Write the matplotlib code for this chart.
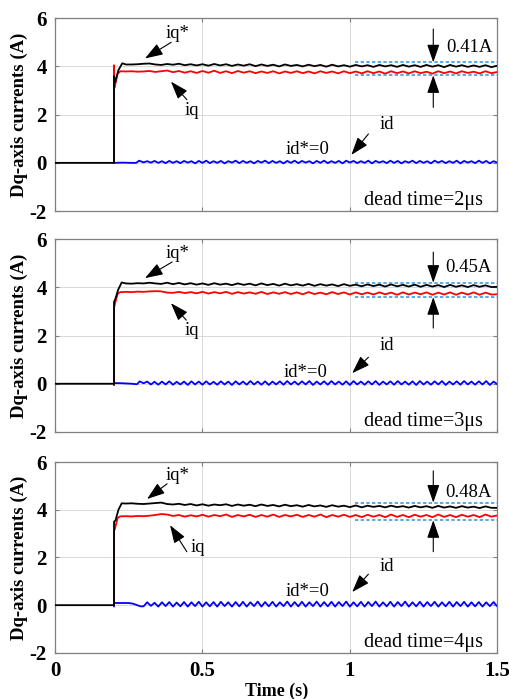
import matplotlib
matplotlib.use("Agg")
import matplotlib.pyplot as plt
import numpy as np

plt.rcParams['font.family'] = ['Liberation Serif', 'DejaVu Serif']
plt.rcParams['axes.unicode_minus'] = False

# sample grids (s) for the rippled parts of the traces
t_iq = np.round(np.arange(0.24, 1.5001, 0.02), 4)     # 64 samples
t_id = np.round(np.arange(0.30, 1.5001, 0.0125), 4)   # 97 samples

# ---------- dead time = 2us ----------
iqref1_t0 = [0, 0.2, 0.2, 0.204, 0.215, 0.228]
iqref1_y0 = [0, 0, 3.6, 3.35, 3.85, 4.13]
iqref1 = [4.08, 4.08, 4.09, 4.11, 4.12, 4.08, 4.06, 4.10, 4.07, 4.11,
          4.05, 4.09, 4.04, 4.09, 4.03, 4.10, 4.04, 4.09, 4.02, 4.08,
          4.03, 4.09, 4.01, 4.08, 4.02, 4.07, 4.00, 4.08, 4.02, 4.06,
          4.00, 4.07, 4.01, 4.06, 3.99, 4.07, 4.00, 4.05, 3.99, 4.06,
          4.00, 4.05, 3.98, 4.06, 4.00, 4.05, 3.98, 4.06, 3.99, 4.05,
          3.98, 4.06, 3.99, 4.05, 3.97, 4.06, 3.99, 4.05, 3.98, 4.04,
          3.98, 4.05, 3.97, 4.03]
iq1_t0 = [0.2, 0.2, 0.201, 0.205, 0.212, 0.222]
iq1_y0 = [0, 4.05, 3.1, 3.3, 3.7, 3.8]
iq1 = [3.79, 3.80, 3.78, 3.79, 3.81, 3.77, 3.80, 3.83, 3.76, 3.81,
       3.74, 3.80, 3.73, 3.81, 3.74, 3.82, 3.73, 3.80, 3.72, 3.81,
       3.74, 3.80, 3.72, 3.79, 3.73, 3.80, 3.71, 3.79, 3.73, 3.80,
       3.72, 3.79, 3.71, 3.80, 3.73, 3.79, 3.71, 3.80, 3.72, 3.79,
       3.71, 3.80, 3.72, 3.79, 3.70, 3.80, 3.72, 3.79, 3.71, 3.80,
       3.72, 3.78, 3.70, 3.80, 3.72, 3.79, 3.71, 3.80, 3.73, 3.78,
       3.71, 3.80, 3.72, 3.77]
id1_t0 = [0.2, 0.23, 0.26, 0.275, 0.285]
id1_y0 = [0.0, 0.01, 0.0, 0.0, 0.09]
id1 = [0.02, 0.07, 0.01, 0.08, 0.00, 0.07, -0.01, 0.08, 0.00, 0.07,
       -0.01, 0.08, 0.01, 0.07, -0.02, 0.08, 0.00, 0.09, -0.01, 0.07,
       0.00, 0.08, -0.02, 0.07, 0.01, 0.09, -0.01, 0.08, 0.00, 0.07,
       -0.02, 0.08, 0.01, 0.09, -0.01, 0.08, 0.00, 0.07, -0.02, 0.08,
       0.00, 0.09, -0.01, 0.08, 0.01, 0.07, -0.02, 0.08, 0.00, 0.09,
       -0.01, 0.07, 0.00, 0.08, -0.02, 0.09, 0.01, 0.08, -0.01, 0.07,
       0.00, 0.09, -0.02, 0.08, 0.01, 0.07, -0.01, 0.09, 0.00, 0.08,
       -0.02, 0.07, 0.01, 0.09, -0.01, 0.08, 0.00, 0.07, -0.02, 0.09,
       0.01, 0.08, -0.01, 0.07, 0.00, 0.09, -0.02, 0.08, 0.01, 0.07,
       -0.01, 0.09, 0.00, 0.08, -0.02, 0.07, 0.01]

# ---------- dead time = 3us ----------
iqref2_t0 = [0, 0.2, 0.2, 0.204, 0.214, 0.226]
iqref2_y0 = [0, 0, 3.4, 3.5, 3.9, 4.2]
iqref2 = [4.16, 4.15, 4.17, 4.16, 4.19, 4.16, 4.14, 4.19, 4.13, 4.18,
          4.12, 4.17, 4.11, 4.16, 4.10, 4.17, 4.11, 4.15, 4.09, 4.16,
          4.10, 4.15, 4.08, 4.16, 4.09, 4.14, 4.07, 4.15, 4.08, 4.13,
          4.07, 4.14, 4.06, 4.13, 4.07, 4.12, 4.05, 4.13, 4.06, 4.11,
          4.04, 4.12, 4.05, 4.11, 4.03, 4.12, 4.04, 4.10, 4.03, 4.11,
          4.02, 4.10, 4.03, 4.09, 4.01, 4.10, 4.02, 4.08, 4.01, 4.09,
          4.02, 4.08, 4.01, 4.02]
iq2_t0 = [0.2, 0.2, 0.203, 0.207, 0.213, 0.222]
iq2_y0 = [0, 3.15, 3.3, 3.5, 3.75, 3.8]
iq2 = [3.81, 3.80, 3.82, 3.81, 3.83, 3.84, 3.83, 3.78, 3.77, 3.81,
       3.76, 3.80, 3.75, 3.81, 3.74, 3.80, 3.75, 3.81, 3.73, 3.80,
       3.74, 3.79, 3.73, 3.81, 3.72, 3.79, 3.73, 3.80, 3.72, 3.79,
       3.71, 3.80, 3.72, 3.78, 3.71, 3.80, 3.72, 3.79, 3.70, 3.79,
       3.71, 3.78, 3.70, 3.79, 3.71, 3.78, 3.69, 3.79, 3.70, 3.78,
       3.71, 3.79, 3.69, 3.78, 3.70, 3.79, 3.69, 3.78, 3.70, 3.79,
       3.69, 3.78, 3.70, 3.71]
id2_t0 = [0.2, 0.2, 0.23, 0.26, 0.278, 0.287]
id2_y0 = [-0.05, 0.03, 0.02, 0.0, -0.02, 0.1]
id2 = [0.02, 0.09, -0.03, 0.08, -0.04, 0.09, -0.03, 0.10, -0.04, 0.08,
       -0.03, 0.09, -0.05, 0.10, -0.03, 0.09, -0.04, 0.10, -0.03, 0.08,
       -0.04, 0.10, -0.03, 0.09, -0.05, 0.10, -0.03, 0.09, -0.04, 0.11,
       -0.03, 0.09, -0.04, 0.10, -0.05, 0.09, -0.03, 0.10, -0.04, 0.11,
       -0.03, 0.09, -0.04, 0.10, -0.03, 0.11, -0.05, 0.09, -0.03, 0.10,
       -0.04, 0.11, -0.03, 0.09, -0.04, 0.10, -0.05, 0.11, -0.03, 0.09,
       -0.04, 0.10, -0.03, 0.11, -0.05, 0.09, -0.03, 0.10, -0.04, 0.11,
       -0.03, 0.09, -0.04, 0.10, -0.05, 0.11, -0.03, 0.09, -0.04, 0.10,
       -0.03, 0.11, -0.05, 0.09, -0.03, 0.10, -0.04, 0.11, -0.03, 0.09,
       -0.04, 0.10, -0.03, 0.11, -0.05, 0.09, -0.02]

# ---------- dead time = 4us ----------
iqref3_t0 = [0, 0.2, 0.2, 0.205, 0.215, 0.226]
iqref3_y0 = [0, 0, 3.5, 3.55, 4.0, 4.27]
iqref3 = [4.26, 4.27, 4.25, 4.24, 4.26, 4.28, 4.30, 4.24, 4.22, 4.25,
          4.20, 4.24, 4.18, 4.23, 4.17, 4.22, 4.19, 4.23, 4.16, 4.22,
          4.17, 4.21, 4.15, 4.22, 4.16, 4.20, 4.14, 4.21, 4.15, 4.19,
          4.13, 4.20, 4.14, 4.18, 4.12, 4.19, 4.13, 4.17, 4.11, 4.18,
          4.10, 4.17, 4.12, 4.16, 4.10, 4.17, 4.11, 4.15, 4.09, 4.16,
          4.10, 4.15, 4.08, 4.16, 4.09, 4.14, 4.08, 4.15, 4.09, 4.13,
          4.07, 4.14, 4.08, 4.08]
iq3_t0 = [0.2, 0.2, 0.203, 0.207, 0.212, 0.22]
iq3_y0 = [0, 3.1, 3.2, 3.4, 3.65, 3.72]
iq3 = [3.73, 3.72, 3.74, 3.73, 3.75, 3.78, 3.82, 3.80, 3.74, 3.78,
       3.71, 3.77, 3.72, 3.79, 3.71, 3.78, 3.73, 3.80, 3.70, 3.78,
       3.72, 3.79, 3.70, 3.78, 3.71, 3.80, 3.70, 3.78, 3.72, 3.79,
       3.70, 3.78, 3.71, 3.80, 3.69, 3.78, 3.71, 3.79, 3.70, 3.78,
       3.69, 3.79, 3.71, 3.78, 3.69, 3.80, 3.70, 3.78, 3.69, 3.79,
       3.71, 3.78, 3.69, 3.80, 3.70, 3.78, 3.69, 3.79, 3.71, 3.78,
       3.69, 3.80, 3.71, 3.76]
id3_t0 = [0.2, 0.2, 0.25, 0.265, 0.29]
id3_y0 = [-0.05, 0.09, 0.09, 0.06, -0.05]
id3 = [-0.05, 0.12, -0.03, 0.10, -0.06, 0.12, -0.04, 0.13, -0.06, 0.11,
       -0.05, 0.13, -0.06, 0.12, -0.04, 0.14, -0.06, 0.12, -0.05, 0.13,
       -0.06, 0.14, -0.04, 0.12, -0.06, 0.13, -0.05, 0.14, -0.06, 0.12,
       -0.04, 0.15, -0.06, 0.13, -0.05, 0.14, -0.06, 0.12, -0.04, 0.15,
       -0.06, 0.13, -0.05, 0.14, -0.06, 0.12, -0.04, 0.15, -0.06, 0.13,
       -0.05, 0.14, -0.06, 0.13, -0.04, 0.15, -0.06, 0.12, -0.05, 0.14,
       -0.06, 0.13, -0.04, 0.15, -0.06, 0.12, -0.05, 0.14, -0.06, 0.13,
       -0.04, 0.15, -0.06, 0.12, -0.05, 0.14, -0.06, 0.13, -0.04, 0.14,
       -0.06, 0.12, -0.05, 0.14, -0.06, 0.13, -0.04, 0.14, -0.06, 0.12,
       -0.05, 0.13, -0.06, 0.12, -0.04, 0.13, -0.05]

dead_times = ["dead time=2\u03bcs", "dead time=3\u03bcs", "dead time=4\u03bcs"]
ripple_labels = ["0.41A", "0.45A", "0.48A"]
band_hi = [4.17, 4.19, 4.30]
band_lo = [3.63, 3.59, 3.56]

panels = [
    (iqref1_t0, iqref1_y0, iqref1, iq1_t0, iq1_y0, iq1, id1_t0, id1_y0, id1),
    (iqref2_t0, iqref2_y0, iqref2, iq2_t0, iq2_y0, iq2, id2_t0, id2_y0, id2),
    (iqref3_t0, iqref3_y0, iqref3, iq3_t0, iq3_y0, iq3, id3_t0, id3_y0, id3),
]

# annotation positions per panel: (text xy, arrow tail, arrow head)
iqref_ann = [((0.417, 5.37), (0.394, 5.0), (0.305, 4.33)),
             ((0.417, 5.42), (0.397, 5.05), (0.305, 4.38)),
             ((0.414, 5.42), (0.38, 5.09), (0.312, 4.45))]
iq_ann = [((0.465, 2.17), (0.447, 2.62), (0.393, 3.37)),
          ((0.465, 2.22), (0.445, 2.64), (0.393, 3.34)),
          ((0.486, 2.40), (0.447, 2.24), (0.39, 3.35))]
id_ann = [((1.10, 1.58), (1.063, 1.2), (1.005, 0.33)),
          ((1.10, 1.60), (1.063, 1.1), (1.008, 0.44)),
          ((1.10, 1.62), (1.063, 1.3), (1.008, 0.55))]
idref_pos = [(0.855, 0.54), (0.85, 0.48), (0.855, 0.58)]
rip_text = [(1.327, 4.79), (1.323, 4.84), (1.323, 4.72)]
down_tail = [5.55, 5.46, 5.63]
up_tail = [2.3, 2.31, 2.24]

fig = plt.figure(figsize=(5.10, 6.99), dpi=100)
boxes = [[0.108, 0.698, 0.867, 0.276],
         [0.108, 0.382, 0.867, 0.276],
         [0.108, 0.066, 0.867, 0.273]]

tfont = dict(family='Liberation Serif', size=13.5)
arr = dict(arrowstyle='-|>,head_length=1.1,head_width=0.38', color='k', lw=0.8,
           shrinkA=0, shrinkB=0)

for k, p in enumerate(panels):
    ax = fig.add_axes(boxes[k])
    rt0, ry0, rv, qt0, qy0, qv, dt0, dy0, dv = p
    ax.plot(dt0 + list(t_id), dy0 + dv, color='#0000ff', lw=1.3, zorder=3)
    ax.plot(qt0 + list(t_iq), qy0 + qv, color='#ff0000', lw=1.3, zorder=3)
    ax.plot(rt0 + list(t_iq), ry0 + rv, color='k', lw=1.3, zorder=4)
    for yb in (band_hi[k], band_lo[k]):
        ax.plot([1.018, 1.5], [yb, yb], color='#3d9be0', lw=1.2,
                ls=(0, (2, 1.4)), zorder=5)

    ax.set_xlim(0, 1.5)
    ax.set_ylim(-2, 6)
    ax.set_xticks([0, 0.5, 1, 1.5])
    ax.set_yticks([-2, 0, 2, 4, 6])
    ax.grid(True, color='#d9d9d9', lw=0.7)
    ax.set_axisbelow(True)
    for s in ax.spines.values():
        s.set_color('#7f7f7f')
        s.set_linewidth(0.9)
    ax.tick_params(direction='in', top=True, right=True, length=3,
                   color='#7f7f7f', labelsize=15, pad=6)
    for lab in ax.get_yticklabels() + ax.get_xticklabels():
        lab.set_fontweight('bold')
    if k < 2:
        ax.set_xticklabels([])
    else:
        ax.set_xticklabels(['0', '0.5', '1', '1.5'])
        ax.set_xlabel('Time (s)', fontsize=13, fontweight='bold', labelpad=1)
    ax.set_ylabel('Dq-axis currents (A)', fontsize=13.5, fontweight='bold')
    ax.yaxis.set_label_coords(-0.062, 0.5)

    txy, tail, head = iqref_ann[k]
    ax.text(txy[0], txy[1], 'iq*', ha='center', va='center', **tfont)
    ax.annotate('', xy=head, xytext=tail, arrowprops=arr)
    txy, tail, head = iq_ann[k]
    ax.text(txy[0], txy[1], 'iq', ha='center', va='center', **tfont)
    ax.annotate('', xy=head, xytext=tail, arrowprops=arr)
    txy, tail, head = id_ann[k]
    ax.text(txy[0], txy[1], 'id', ha='left', va='center', **tfont)
    ax.annotate('', xy=head, xytext=tail, arrowprops=arr)
    ax.text(idref_pos[k][0], idref_pos[k][1], 'id*=0', ha='center',
            va='center', **tfont)

    ax.annotate('', xy=(1.283, band_hi[k]), xytext=(1.283, down_tail[k]),
                arrowprops=arr)
    ax.annotate('', xy=(1.283, band_lo[k]), xytext=(1.283, up_tail[k]),
                arrowprops=arr)
    ax.text(rip_text[k][0], rip_text[k][1], ripple_labels[k], ha='left',
            va='center', **tfont)
    ax.text(1.25, -1.55, dead_times[k], ha='center', va='center',
            family='Liberation Serif', size=14.5)

fig.savefig('out.png', dpi=100)
